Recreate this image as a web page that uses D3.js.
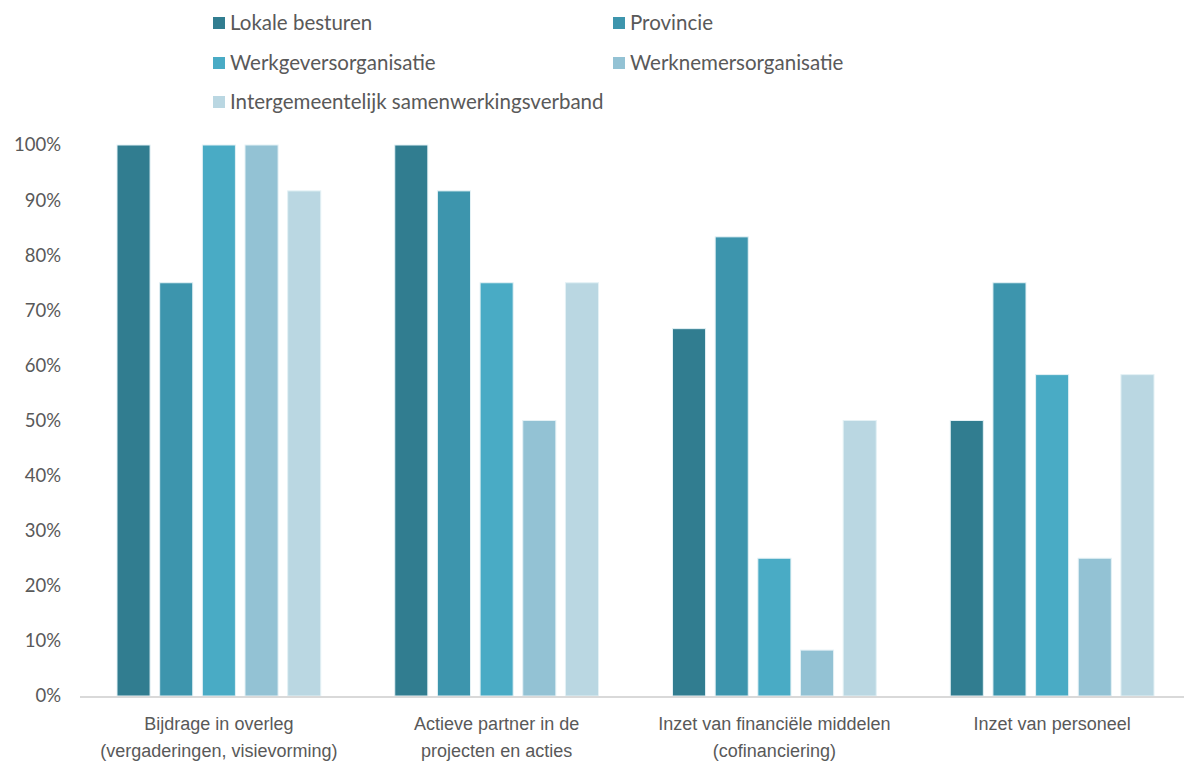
<!DOCTYPE html>
<html>
<head>
<meta charset="utf-8">
<script src="https://cdn.jsdelivr.net/npm/d3@7"></script>
<style>
  html, body { margin: 0; padding: 0; background: #fff; }
  svg { display: block; font-family: Lato, "Open Sans", sans-serif; }
</style>
</head>
<body>
<svg id="chart" width="1184" height="762"></svg>
<script>
// Categories on the x axis (split over lines)
const categories = [
  ["Bijdrage in overleg", "(vergaderingen, visievorming)"],
  ["Actieve partner in de", "projecten en acties"],
  ["Inzet van financiële middelen", "(cofinanciering)"],
  ["Inzet van personeel"]
];
const seriesNames = [
  "Lokale besturen",
  "Provincie",
  "Werkgeversorganisatie",
  "Werknemersorganisatie",
  "Intergemeentelijk samenwerkingsverband"
];
// Share per series, one value per category
const lokaleBesturen = [1.0, 1.0, 0.6667, 0.5];
const provincie = [0.75, 0.9167, 0.8333, 0.75];
const werkgevers = [1.0, 0.75, 0.25, 0.5833];
const werknemers = [1.0, 0.5, 0.0833, 0.25];
const intergemeentelijk = [0.9167, 0.75, 0.5, 0.5833];
const seriesValues = [lokaleBesturen, provincie, werkgevers, werknemers, intergemeentelijk];
const colors = ["#317d90", "#3d95ad", "#49abc5", "#93c2d4", "#bad7e2"];
const yTicks = [0, 0.1, 0.2, 0.3, 0.4, 0.5, 0.6, 0.7, 0.8, 0.9, 1.0];

const svg = d3.select("#chart");
const plotLeft = 80, plotRight = 1191, plotTop = 145, plotBottom = 696;

const x0 = d3.scaleBand().domain(d3.range(categories.length)).range([plotLeft, plotRight]).paddingInner(0).paddingOuter(0);
const x1 = d3.scaleBand().domain(d3.range(seriesNames.length))
  .range([37, x0.bandwidth() - 37]).paddingInner(0.225).paddingOuter(0);
const y = d3.scaleLinear().domain([0, 1]).range([plotBottom, plotTop]);

// y axis labels
const yAxis = d3.axisLeft(y).tickValues(yTicks).tickFormat(d3.format(".0%")).tickSize(0).tickPadding(0);
const yg = svg.append("g").attr("transform", `translate(61,0)`).call(yAxis);
yg.select(".domain").remove();
yg.selectAll("text").attr("fill", "#595959").style("font-size", "18.5px")
  .style("font-family", "Lato, 'Open Sans', sans-serif");

// bars
const groups = svg.append("g").selectAll("g")
  .data(categories).join("g")
  .attr("transform", (d, i) => `translate(${x0(i)},0)`);
groups.selectAll("rect")
  .data((d, i) => seriesValues.map((vals, s) => ({ s, v: vals[i] })))
  .join("rect")
  .attr("x", d => x1(d.s))
  .attr("width", x1.bandwidth())
  .attr("y", d => y(d.v))
  .attr("height", d => plotBottom - y(d.v))
  .attr("fill", d => colors[d.s])
  .attr("stroke", "#e4f1f5")
  .attr("stroke-width", 1);

// baseline
svg.append("line").attr("x1", plotLeft).attr("x2", 1184).attr("y1", plotBottom + 1).attr("y2", plotBottom + 1)
  .attr("stroke", "#d9d9d9").attr("stroke-width", 2);

// x axis category labels
const xAxis = d3.axisBottom(x0).tickSize(0).tickFormat(() => "");
const xg = svg.append("g").attr("transform", `translate(0,${plotBottom})`).call(xAxis);
xg.select(".domain").remove();
xg.selectAll(".tick").each(function(d) {
  const t = d3.select(this).append("text")
    .attr("text-anchor", "middle").attr("fill", "#595959")
    .style("font-size", "18px");
  categories[d].forEach((line, k) => {
    t.append("tspan").attr("x", 0).attr("y", 34 + k * 27).text(line);
  });
});

// legend
const legendPos = [[213, 23], [613, 23], [213, 63], [613, 63], [213, 102]];
const lg = svg.append("g").selectAll("g").data(seriesNames).join("g")
  .attr("transform", (d, i) => `translate(${legendPos[i][0]},${legendPos[i][1]})`);
lg.append("rect").attr("x", 0).attr("y", -6).attr("width", 12).attr("height", 12)
  .attr("fill", (d, i) => colors[i]);
lg.append("text").attr("x", 17).attr("y", 0).attr("dy", "0.35em")
  .attr("fill", "#595959").style("font-size", "20.5px").text(d => d);
</script>
</body>
</html>
